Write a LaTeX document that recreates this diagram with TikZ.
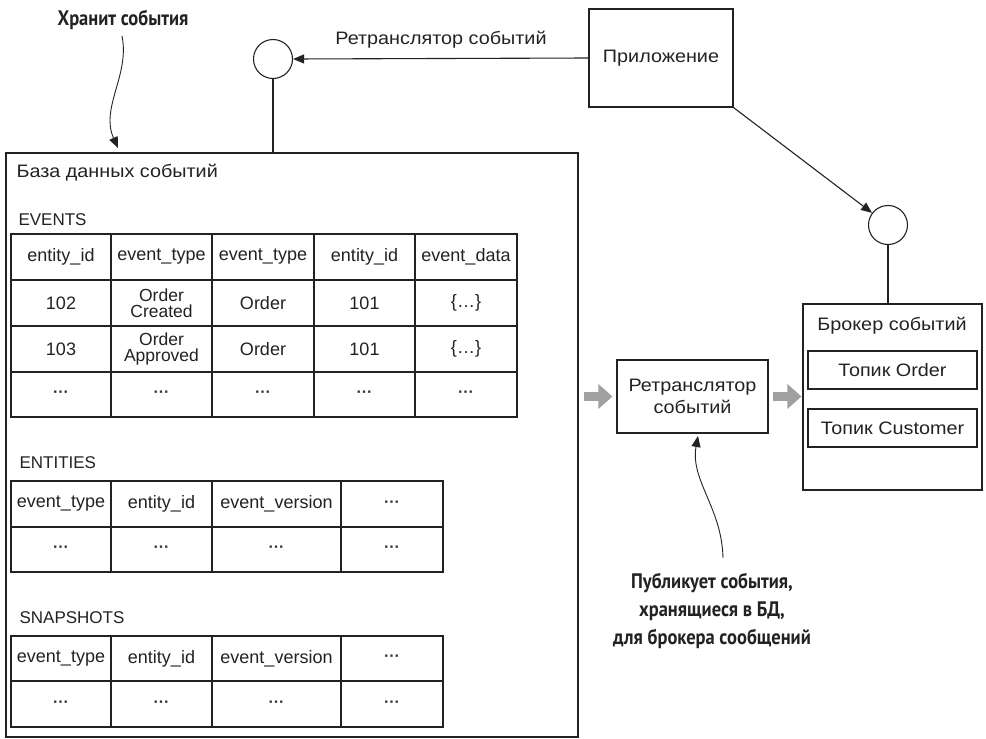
\documentclass[tikz,border=0pt]{standalone}
\usepackage{fontspec}
\setmainfont{Liberation Sans}
\newfontfamily\widefont[FakeStretch=1.1]{Liberation Sans}
\newfontfamily\annfont[FakeStretch=0.88]{PT Sans}
\usetikzlibrary{arrows.meta}
\definecolor{ink}{HTML}{222222}
\definecolor{fatgray}{HTML}{A0A0A0}
\begin{document}
\begin{tikzpicture}[x=1pt,y=-1pt, line width=1.1pt, draw=ink, text=ink,
  box/.style={draw=ink, rectangle, inner sep=0pt, align=center, font=\widefont\fontsize{18}{22}\selectfont},
  wtxt/.style={inner sep=0pt, align=center, font=\widefont\fontsize{18}{22}\selectfont},
  ring/.style={draw=ink, circle, minimum size=39pt, inner sep=0pt},
  txt/.style={inner sep=0pt, align=center, font=\fontsize{18}{17}\selectfont},
  two/.style={inner sep=0pt, align=center, font=\fontsize{17.5}{16.5}\selectfont},
  head/.style={inner sep=0pt, anchor=west, font=\fontsize{17}{17}\selectfont},
  dotsc/.style={inner sep=0pt, text=black!80, font=\bfseries\fontsize{16}{16}\selectfont},
  ann/.style={inner sep=0pt, align=center, font=\annfont\bfseries\fontsize{21}{28}\selectfont},
  tip/.style={-{Triangle[length=11pt,width=9pt]}},
  fat/.style={draw=fatgray, line width=9pt, -{Triangle[length=14pt,width=24pt]}}
]
\useasboundingbox (0,0) rectangle (986,739);

% main boxes
\node[box, minimum width=144pt, minimum height=98pt] (app) at (661,58) {Приложение};
\node[ring] (tc) at (273,59) {};
\node[box, minimum width=572pt, minimum height=584pt] (db) at (292,445) {};
\node[wtxt, anchor=west] (dbt) at (16,173) {База данных событий};
\node[box, minimum width=151pt, minimum height=73pt] (relay) at (692.5,396.5) {Ретранслятор\\событий};
\node[ring] (bc) at (888,225) {};
\node[box, minimum width=179pt, minimum height=186pt] (broker) at (892.5,397) {};
\node[wtxt] (brt) at (892,326) {Брокер событий};
\node[box, minimum width=169pt, minimum height=38pt] (tord) at (892.5,370) {Топик Order};
\node[box, minimum width=169pt, minimum height=38pt] (tcus) at (892.5,428) {Топик Customer};

% connectors
\node[wtxt] (lbl) at (441,40) {Ретранслятор событий};
\draw[tip] (app.west) -- (tc.east);
\draw (tc.south) -- (tc.south |- db.north);
\draw[tip] (app.south east) -- (bc);
\draw (bc.south) -- (bc.south |- broker.north);
\draw[fat, shorten <=5pt, shorten >=4pt] (db.east |- relay.west) -- (relay.west);
\draw[fat, shorten <=4pt, shorten >=1pt] (relay.east) -- (relay.east -| broker.west);

% annotations
\node[ann] (hr) at (123,20) {Хранит события};
\coordinate (hrstart) at (122,36);
\coordinate (hrend) at (118,148);
\draw[tip, line width=0.9pt] (hrstart) .. controls (130,75) and (100,108) .. (hrend);
\node[ann] (pub) at (712,611) {Публикует события,\\хранящиеся в БД,\\для брокера сообщений};
\coordinate (pubstart) at (723,558);
\coordinate (pubend) at (698,436);
\draw[tip, line width=0.9pt] (pubstart) .. controls (722,508) and (690,480) .. (pubend);

% EVENTS table
\node[head] (evl) at (18,220) {EVENTS};
\draw (11,234) rectangle (517,417);
\foreach \x in {111,212,314,415} \draw (\x,234) -- (\x,417);
\foreach \y in {280,326,372} \draw (11,\y) -- (517,\y);
\node[txt] (e11) at (61,257) {entity\_id};
\node[txt] (e12) at (161.5,257) {event\_type};
\node[txt] (e13) at (263,257) {event\_type};
\node[txt] (e14) at (364.5,257) {entity\_id};
\node[txt] (e15) at (466,257) {event\_data};
\node[txt] (e21) at (61,303) {102};
\node[two] (e22) at (161.5,303) {Order\\Created};
\node[txt] (e23) at (263,303) {Order};
\node[txt] (e24) at (364.5,303) {101};
\node[txt] (e25) at (466,303) {\{…\}};
\node[txt] (e31) at (61,349) {103};
\node[two] (e32) at (161.5,349) {Order\\Approved};
\node[txt] (e33) at (263,349) {Order};
\node[txt] (e34) at (364.5,349) {101};
\node[txt] (e35) at (466,349) {\{…\}};
\node[dotsc] (e41) at (61,394.5) {···};
\node[dotsc] (e42) at (161.5,394.5) {···};
\node[dotsc] (e43) at (263,394.5) {···};
\node[dotsc] (e44) at (364.5,394.5) {···};
\node[dotsc] (e45) at (466,394.5) {···};

% ENTITIES table
\node[head] (enl) at (19,463) {ENTITIES};
\draw (11,481) rectangle (443,572);
\foreach \x in {111,212,341} \draw (\x,481) -- (\x,572);
\draw (11,527) -- (443,527);
\node[txt] (n11) at (61,504) {event\_type};
\node[txt] (n12) at (161.5,504) {entity\_id};
\node[txt] (n13) at (276.5,504) {event\_version};
\node[dotsc] (n14) at (392,504) {···};
\node[dotsc] (n21) at (61,549.5) {···};
\node[dotsc] (n22) at (161.5,549.5) {···};
\node[dotsc] (n23) at (276.5,549.5) {···};
\node[dotsc] (n24) at (392,549.5) {···};

% SNAPSHOTS table
\node[head] (snl) at (19,618) {SNAPSHOTS};
\draw (11,636) rectangle (443,727);
\foreach \x in {111,212,341} \draw (\x,636) -- (\x,727);
\draw (11,681) -- (443,681);
\node[txt] (s11) at (61,658.5) {event\_type};
\node[txt] (s12) at (161.5,658.5) {entity\_id};
\node[txt] (s13) at (276.5,658.5) {event\_version};
\node[dotsc] (s14) at (392,658.5) {···};
\node[dotsc] (s21) at (61,704) {···};
\node[dotsc] (s22) at (161.5,704) {···};
\node[dotsc] (s23) at (276.5,704) {···};
\node[dotsc] (s24) at (392,704) {···};
\end{tikzpicture}
\end{document}
